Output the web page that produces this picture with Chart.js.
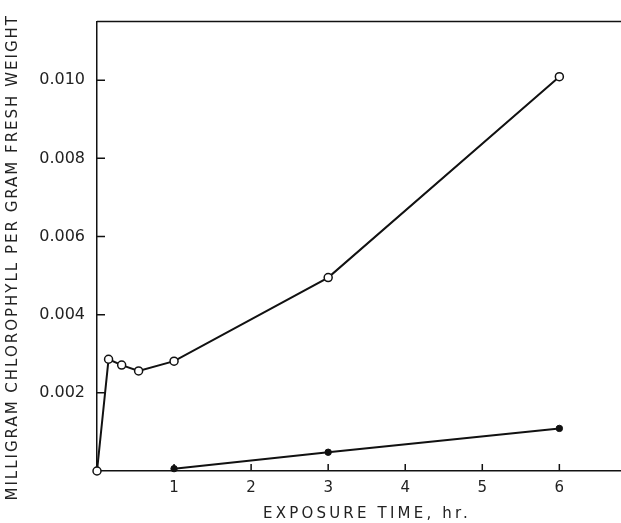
<!DOCTYPE html>
<html>
<head>
<meta charset="utf-8">
<script src="https://cdn.jsdelivr.net/npm/chart.js@4/dist/chart.umd.min.js"></script>
<style>
html,body{margin:0;padding:0;background:#fff;}
#wrap{width:621px;height:523px;position:relative;}
</style>
</head>
<body>
<div id="wrap"><canvas id="c" width="621" height="523"></canvas></div>
<script>
// Data
const openHours = [0, 0.15, 0.32, 0.54, 1, 3, 6];
const openChl   = [0.00000, 0.00286, 0.00271, 0.00256, 0.00281, 0.00495, 0.01009];
const filledHours = [1, 3, 6];
const filledChl   = [0.00006, 0.00048, 0.00109];
const xTicks = [1, 2, 3, 4, 5, 6];
const yTicks = [0.002, 0.004, 0.006, 0.008, 0.010];
const xTitle = 'EXPOSURE TIME, hr.';
const yTitle = 'MILLIGRAM CHLOROPHYLL PER GRAM FRESH WEIGHT';

const toXY = (xs, ys) => xs.map((x, i) => ({x: x, y: ys[i]}));

function spacedTitle(scale, spacing, dx, dy) {
  if (scale._spacedPatched) return;
  scale._spacedPatched = true;
  const orig = scale.drawTitle;
  scale.drawTitle = function () {
    const ctx = this.ctx;
    ctx.save();
    ctx.translate(dx, dy);
    ctx.letterSpacing = spacing;
    orig.apply(this, arguments);
    ctx.restore();
  };
}

const frame = {
  id: 'frame',
  afterDraw(chart) {
    const ctx = chart.ctx, a = chart.chartArea;
    const xs = chart.scales.x, ys = chart.scales.y;
    ctx.save();
    ctx.strokeStyle = '#111';
    ctx.lineWidth = 1.5;
    ctx.beginPath();
    ctx.moveTo(a.left, a.top); ctx.lineTo(a.right, a.top);
    xTicks.forEach(v => { const p = xs.getPixelForValue(v); ctx.moveTo(p, a.bottom); ctx.lineTo(p, a.bottom - 7); });
    yTicks.forEach(v => { const p = ys.getPixelForValue(v); ctx.moveTo(a.left, p); ctx.lineTo(a.left + 8, p); });
    ctx.stroke();
    ctx.restore();
  }
};

new Chart(document.getElementById('c'), {
  type: 'line',
  data: {
    datasets: [
      {
        data: toXY(openHours, openChl),
        borderColor: '#111', borderWidth: 2,
        pointRadius: 4, pointBackgroundColor: '#fff', pointBorderColor: '#111', pointBorderWidth: 1.5,
        clip: false, tension: 0
      },
      {
        data: toXY(filledHours, filledChl),
        borderColor: '#111', borderWidth: 2,
        pointRadius: 3.2, pointBackgroundColor: '#111', pointBorderColor: '#111', pointBorderWidth: 1,
        clip: false, tension: 0
      }
    ]
  },
  options: {
    responsive: false,
    animation: false,
    layout: {autoPadding: false, padding: {top: 12, right: 0, left: 0, bottom: 0}},
    plugins: {legend: {display: false}, tooltip: {enabled: false}},
    scales: {
      x: {
        type: 'linear', min: 0, max: 6.8,
        afterBuildTicks: s => { s.ticks = xTicks.map(v => ({value: v})); },
        afterFit: s => { s.height = 52; spacedTitle(s, '3.2px', 8, 0); },
        grid: {display: false, drawTicks: false},
        border: {display: true, color: '#111', width: 1.5},
        ticks: {padding: 8, color: '#222', font: {family: 'DejaVu Sans', size: 15}, callback: v => String(v)},
        title: {display: true, text: xTitle, color: '#222', font: {family: 'DejaVu Sans', size: 15}, padding: {top: 4, bottom: 0}}
      },
      y: {
        type: 'linear', min: 0, max: 0.0115,
        afterBuildTicks: s => { s.ticks = yTicks.map(v => ({value: v})); },
        afterFit: s => { s.width = 97; spacedTitle(s, '2px', 0, 11); },
        grid: {display: false, drawTicks: false},
        border: {display: true, color: '#111', width: 1.5},
        ticks: {padding: 12, color: '#222', font: {family: 'DejaVu Sans', size: 16}, callback: v => v.toFixed(3)},
        title: {display: true, text: yTitle, color: '#222', font: {family: 'DejaVu Sans', size: 15}, padding: {top: 4, bottom: 0}}
      }
    }
  },
  plugins: [frame]
});
</script>
</body>
</html>
